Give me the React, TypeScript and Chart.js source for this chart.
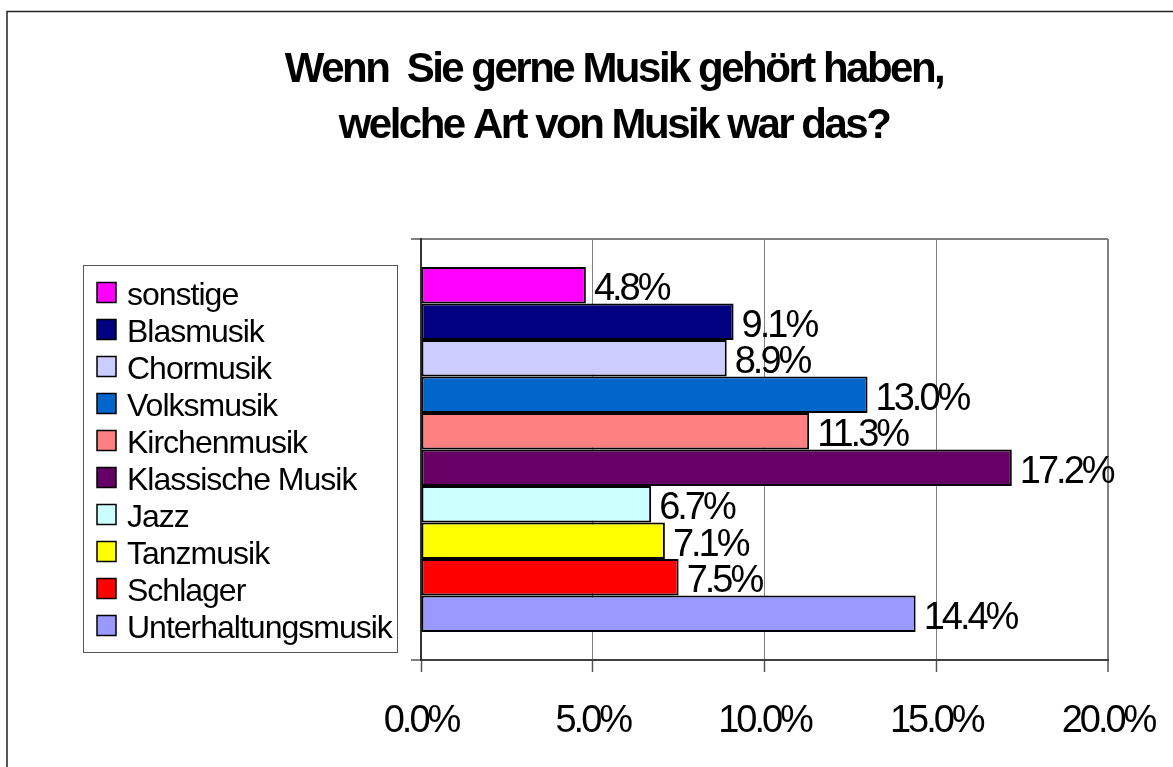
import React, { useEffect, useRef } from 'react';
import { Chart, registerables } from 'chart.js';

Chart.register(...registerables);

const TITLE_LINES = ['Wenn  Sie gerne Musik gehört haben,', 'welche Art von Musik war das?'];
const CATEGORIES = [
  'sonstige',
  'Blasmusik',
  'Chormusik',
  'Volksmusik',
  'Kirchenmusik',
  'Klassische Musik',
  'Jazz',
  'Tanzmusik',
  'Schlager',
  'Unterhaltungsmusik',
];
const VALUES = [4.8, 9.1, 8.9, 13.0, 11.3, 17.2, 6.7, 7.1, 7.5, 14.4];
const COLORS = [
  '#FF00FF',
  '#000080',
  '#CCCCFF',
  '#0066CC',
  '#FF8080',
  '#660066',
  '#CCFFFF',
  '#FFFF00',
  '#FF0000',
  '#9999FF',
];
const X_MIN = 0;
const X_MAX = 20;
const X_STEP = 5;

const FONT = '"Liberation Sans", Arial, Helvetica, sans-serif';

const decorPlugin = {
  id: 'decor',
  beforeDraw(chart: any) {
    const ctx = chart.ctx;
    ctx.save();
    ctx.fillStyle = '#ffffff';
    ctx.fillRect(0, 0, chart.width, chart.height);
    ctx.strokeStyle = '#222222';
    ctx.lineWidth = 1.5;
    ctx.strokeRect(7, 11.5, chart.width + 40, chart.height + 40);
    ctx.restore();
    ctx.letterSpacing = '-3px';
  },
  afterDatasetsDraw(chart: any) {
    const ctx = chart.ctx;
    ctx.save();
    ctx.letterSpacing = '-3px';
    ctx.font = `38px ${FONT}`;
    ctx.fillStyle = '#000';
    ctx.textAlign = 'left';
    ctx.textBaseline = 'alphabetic';
    chart.data.datasets.forEach((ds: any, i: number) => {
      const meta = chart.getDatasetMeta(i);
      const el = meta.data[0];
      if (!el) return;
      const v = ds.data[0];
      ctx.fillText(`${Number(v).toFixed(1)}%`, el.x + 8, el.y + 15);
    });
    ctx.restore();
  },
  afterDraw(chart: any) {
    const ctx = chart.ctx;
    // title
    ctx.save();
    ctx.letterSpacing = '-2.5px';
    ctx.font = `bold 42px ${FONT}`;
    ctx.fillStyle = '#000';
    ctx.textAlign = 'center';
    ctx.textBaseline = 'alphabetic';
    TITLE_LINES.forEach((line, i) => {
      ctx.fillText(line, 614, 82 + i * 56);
    });
    ctx.restore();

    // legend
    ctx.save();
    ctx.letterSpacing = '-1px';
    ctx.strokeStyle = '#555';
    ctx.lineWidth = 1;
    ctx.strokeRect(83.5, 265.5, 314, 387);
    ctx.font = `32px ${FONT}`;
    ctx.textAlign = 'left';
    ctx.textBaseline = 'alphabetic';
    chart.data.datasets.forEach((ds: any, i: number) => {
      const cy = 292.5 + 37 * i;
      ctx.fillStyle = ds.backgroundColor;
      ctx.fillRect(97, cy - 10, 19, 20);
      ctx.strokeStyle = '#000';
      ctx.lineWidth = 1.5;
      ctx.strokeRect(97, cy - 10, 19, 20);
      ctx.fillStyle = '#000';
      ctx.fillText(ds.label, 127, cy + 12);
    });
    ctx.restore();
  },
};

export default function App() {
  const canvasRef = useRef<HTMLCanvasElement | null>(null);

  useEffect(() => {
    const canvas = canvasRef.current;
    if (!canvas) return;
    const chart = new Chart(canvas, {
      type: 'bar',
      data: {
        labels: [''],
        datasets: CATEGORIES.map((c, i) => ({
          label: c,
          data: [VALUES[i]],
          backgroundColor: COLORS[i],
          borderColor: '#000000',
          borderWidth: 2,
          borderSkipped: false,
          barPercentage: 1,
          categoryPercentage: 0.867,
        })),
      },
      options: {
        indexAxis: 'y',
        responsive: false,
        animation: false,
        devicePixelRatio: 1,
        layout: { padding: { top: 239, left: 411, right: 65, bottom: 0 } },
        plugins: {
          legend: { display: false },
          title: { display: false },
          tooltip: { enabled: false },
        },
        scales: {
          x: {
            min: X_MIN,
            max: X_MAX,
            afterFit: (s: any) => {
              s.height = 107;
              s.paddingLeft = 0;
              s.paddingRight = 0;
            },
            ticks: {
              stepSize: X_STEP,
              padding: 27,
              color: '#000',
              font: { size: 38, family: FONT },
              maxRotation: 0,
              autoSkip: false,
              callback: (v: any) => `${Number(v).toFixed(1)}%`,
            },
            grid: {
              color: '#808080',
              lineWidth: (c: any) => (c.tick && c.tick.value === X_MAX ? 2 : 1),
              tickLength: 12,
              tickColor: '#555555',
              tickWidth: 1.5,
            },
            border: { color: '#404040', width: 2 },
          },
          y: {
            ticks: { display: false },
            grid: { offset: true, color: '#808080', lineWidth: 2, tickLength: 10 },
            border: { color: '#333333', width: 2 },
          },
        },
      },
      plugins: [decorPlugin],
    } as any);
    return () => chart.destroy();
  }, []);

  return (
    <div style={{ position: 'absolute', left: 0, top: 0, width: 1173, height: 767, overflow: 'hidden', background: '#fff' }}>
      <canvas ref={canvasRef} width={1173} height={767} style={{ display: 'block' }} />
    </div>
  );
}
